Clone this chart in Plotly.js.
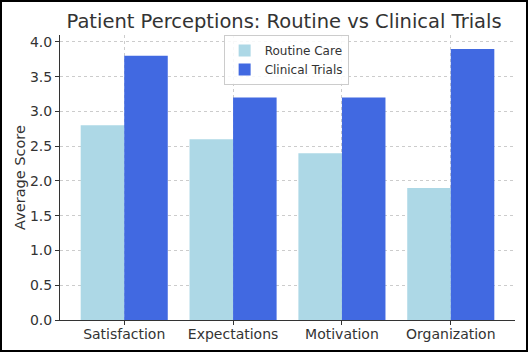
<!DOCTYPE html>
<html><head><meta charset="utf-8">
<script src="https://cdn.plot.ly/plotly-3.0.1.min.js"></script>
<style>
html,body{margin:0;padding:0;background:#fff;}
#wrap{position:relative;width:528px;height:352px;}
#chart{width:528px;height:352px;}
#frame{position:absolute;left:0;top:0;width:528px;height:352px;box-sizing:border-box;border:2px solid #000;pointer-events:none;}
</style></head>
<body>
<div id="wrap"><div id="chart"></div><div id="frame"></div></div>
<script>
const categories = ["Satisfaction", "Expectations", "Motivation", "Organization"];
const routineCare = [2.8, 2.6, 2.4, 1.9];
const clinicalTrials = [3.8, 3.2, 3.2, 3.9];
const yTickVals = [0, 0.5, 1, 1.5, 2, 2.5, 3, 3.5, 4];
const yTickText = ["0.0", "0.5", "1.0", "1.5", "2.0", "2.5", "3.0", "3.5", "4.0"];

const traces = [
  {type: "bar", name: "Routine Care", x: categories, y: routineCare, marker: {color: "#add8e6"}},
  {type: "bar", name: "Clinical Trials", x: categories, y: clinicalTrials, marker: {color: "#4169e1"}}
];
const layout = {
  width: 528, height: 352,
  margin: {l: 60, r: 13, t: 35, b: 32},
  paper_bgcolor: "#fff", plot_bgcolor: "#fff",
  font: {family: "DejaVu Sans", size: 14, color: "#333333"},
  title: {text: "Patient Perceptions: Routine vs Clinical Trials", font: {family: "DejaVu Sans", size: 19.5, color: "#333333"}, x: 0.538, xanchor: "center", y: 0.94, yanchor: "middle"},
  barmode: "group", bargap: 0.2, bargroupgap: 0,
  showlegend: true,
  legend: {x: 0.497, xanchor: "center", y: 1.0, yanchor: "top", bgcolor: "rgba(255,255,255,0.85)", bordercolor: "#cccccc", borderwidth: 1, font: {family: "DejaVu Sans", size: 12, color: "#333333"}, tracegroupgap: 0},
  xaxis: {
    type: "category", range: [-0.59, 3.59],
    showline: true, linecolor: "#333333", linewidth: 1,
    ticks: "outside", ticklen: 4, tickcolor: "#333333",
    showgrid: true, gridcolor: "#cccccc", griddash: "dot", gridwidth: 1,
    ticklabelstandoff: -3,
    tickfont: {family: "DejaVu Sans", size: 14, color: "#333333"}, zeroline: false
  },
  yaxis: {
    range: [0, 4.1],
    tickvals: yTickVals, ticktext: yTickText,
    showline: true, linecolor: "#333333", linewidth: 1,
    ticks: "outside", ticklen: 4, tickcolor: "#333333",
    showgrid: true, gridcolor: "#cccccc", griddash: "dot", gridwidth: 1,
    zeroline: false,
    tickfont: {family: "DejaVu Sans", size: 14, color: "#333333"},
    title: {text: "Average Score", font: {family: "DejaVu Sans", size: 14.5, color: "#333333"}, standoff: 0}
  }
};
Plotly.newPlot("chart", traces, layout, {displayModeBar: false, staticPlot: true});
</script>
</body></html>
